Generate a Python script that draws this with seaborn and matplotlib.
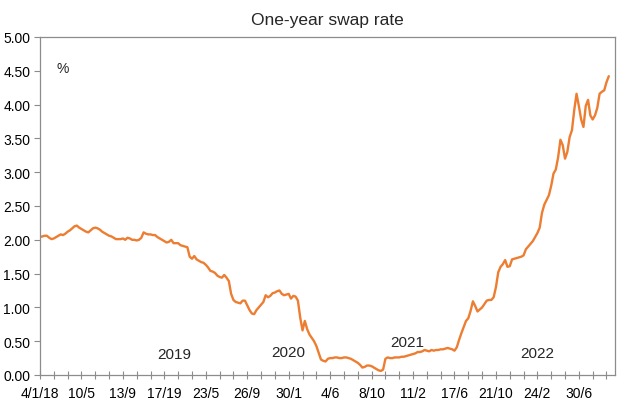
import numpy as np
import pandas as pd
import matplotlib
matplotlib.use("Agg")
import matplotlib.pyplot as plt
import matplotlib.dates as mdates
import seaborn as sns

# ---- data (weekly) ----
start_date = "2018-01-04"
swap_rate = [
    2.04, 2.05, 2.06, 2.06, 2.03, 2.01, 2.02, 2.04, 2.06, 2.08,
    2.07, 2.09, 2.12, 2.14, 2.17, 2.20, 2.21, 2.18, 2.16, 2.14,
    2.12, 2.11, 2.14, 2.17, 2.18, 2.17, 2.15, 2.12, 2.10, 2.08,
    2.06, 2.05, 2.03, 2.01, 2.01, 2.01, 2.02, 2.00, 2.03, 2.02,
    2.00, 2.00, 1.99, 2.00, 2.03, 2.11, 2.09, 2.08, 2.08, 2.07,
    2.07, 2.04, 2.02, 2.00, 1.98, 1.96, 1.97, 2.00, 1.95, 1.95,
    1.95, 1.92, 1.91, 1.90, 1.89, 1.75, 1.72, 1.76, 1.71, 1.69,
    1.67, 1.66, 1.63, 1.59, 1.54, 1.53, 1.51, 1.47, 1.45, 1.44,
    1.48, 1.44, 1.39, 1.20, 1.11, 1.08, 1.07, 1.06, 1.10, 1.10,
    1.03, 0.96, 0.91, 0.90, 0.96, 1.00, 1.04, 1.08, 1.18, 1.15,
    1.17, 1.21, 1.22, 1.24, 1.25, 1.20, 1.18, 1.19, 1.20, 1.13,
    1.17, 1.16, 1.10, 0.85, 0.66, 0.80, 0.68, 0.60, 0.55, 0.50,
    0.43, 0.33, 0.23, 0.21, 0.20, 0.24, 0.25, 0.25, 0.26, 0.26,
    0.25, 0.25, 0.26, 0.26, 0.25, 0.24, 0.22, 0.20, 0.18, 0.15,
    0.11, 0.12, 0.14, 0.14, 0.13, 0.11, 0.09, 0.07, 0.06, 0.08,
    0.24, 0.26, 0.25, 0.25, 0.26, 0.26, 0.26, 0.27, 0.27, 0.28,
    0.29, 0.30, 0.31, 0.32, 0.34, 0.34, 0.35, 0.37, 0.36, 0.35,
    0.37, 0.36, 0.37, 0.37, 0.38, 0.38, 0.39, 0.40, 0.39, 0.38,
    0.36, 0.41, 0.52, 0.62, 0.71, 0.80, 0.84, 0.95, 1.09, 1.02,
    0.94, 0.97, 1.00, 1.05, 1.10, 1.11, 1.11, 1.15, 1.30, 1.52,
    1.60, 1.64, 1.70, 1.60, 1.61, 1.71, 1.72, 1.73, 1.74, 1.75,
    1.77, 1.86, 1.90, 1.94, 1.98, 2.04, 2.10, 2.18, 2.40, 2.52,
    2.59, 2.66, 2.80, 2.98, 3.04, 3.22, 3.48, 3.40, 3.20, 3.30,
    3.52, 3.62, 3.92, 4.16, 3.98, 3.78, 3.67, 3.98, 4.07, 3.84,
    3.78, 3.84, 3.95, 4.16, 4.19, 4.21, 4.33, 4.42,
]
tick_labels = ["4/1/18", "10/5", "13/9", "17/19", "23/5", "26/9", "30/1",
               "4/6", "8/10", "11/2", "17/6", "21/10", "24/2", "30/6"]
year_labels = ["2019", "2020", "2021", "2022"]
y_ticks = [0.0, 0.5, 1.0, 1.5, 2.0, 2.5, 3.0, 3.5, 4.0, 4.5, 5.0]

dates = pd.date_range(start_date, periods=len(swap_rate), freq="7D")
df = pd.DataFrame({"date": dates, "rate": swap_rate})

sns.set_theme(style="ticks")
plt.rcParams["font.family"] = ["Liberation Sans", "DejaVu Sans"]

fig = plt.figure(figsize=(6.35, 4.14), dpi=100)
ax = fig.add_axes([40 / 635, 1 - 376 / 414, 575 / 635, 338 / 414])

sns.lineplot(data=df, x="date", y="rate", ax=ax, color="#ED7D31", linewidth=1.7)

# x axis
x0 = pd.Timestamp(start_date)
ax.set_xlim(x0, x0 + pd.Timedelta(days=249.7 * 7))
major = pd.date_range(start_date, periods=len(tick_labels), freq="126D")
minor = pd.date_range(start_date, periods=len(tick_labels) * 3, freq="42D")
ax.set_xticks(major)
ax.set_xticklabels(tick_labels)
ax.set_xticks(minor, minor=True)
ax.tick_params(axis="x", which="both", direction="inout", length=6, width=0.8,
               color="#8c8c8c", labelsize=10, pad=5, labelcolor="#000000")

# y axis
ax.set_ylim(0, 5)
ax.set_yticks(y_ticks)
ax.set_yticklabels([f"{v:.2f}" for v in y_ticks])
ax.tick_params(axis="y", direction="out", length=4, width=0.8,
               color="#8c8c8c", labelsize=10, pad=3, labelcolor="#000000")

ax.set_xlabel("")
ax.set_ylabel("")
for s in ax.spines.values():
    s.set_visible(True)
    s.set_color("#8c8c8c")
    s.set_linewidth(0.9)

ax.set_title("One-year swap rate", fontsize=12.5, pad=9)

ax.text(0.040, 0.908, "%", transform=ax.transAxes, fontsize=10,
        ha="center", va="center")
year_pos = [(0.234, 0.062), (0.431, 0.069), (0.639, 0.0985), (0.864, 0.065)]
for lab, (xf, yf) in zip(year_labels, year_pos):
    ax.text(xf, yf, lab, transform=ax.transAxes, fontsize=11,
            ha="center", va="center")

fig.savefig("out.png", dpi=100)
